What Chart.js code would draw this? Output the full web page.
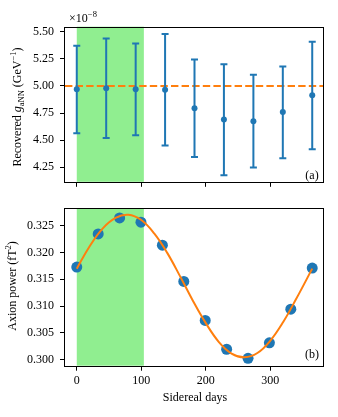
<!DOCTYPE html>
<html>
<head>
<meta charset="utf-8">
<script src="https://cdn.jsdelivr.net/npm/chart.js@4"></script>
<style>
  html, body { margin: 0; padding: 0; background: #fff; }
  #wrap { position: relative; width: 338px; height: 417px; font-family: "Liberation Serif", serif; color: #000; overflow: hidden; }
  canvas { position: absolute; left: 0; }
  #topChart { top: 0; }
  #bottomChart { top: 195px; }
  .lbl { position: absolute; font-size: 12px; white-space: nowrap; line-height: 1; transform: translate(-50%, -50%); }
  .ylab { transform: translate(-50%, -50%) rotate(-90deg); }
  .sup { font-size: 8.5px; position: relative; top: -5px; }
  .sub { font-size: 8.5px; position: relative; top: 3px; }
</style>
</head>
<body>
<div id="wrap">
  <canvas id="topChart" width="338" height="195"></canvas>
  <canvas id="bottomChart" width="338" height="222"></canvas>
  <div class="lbl ylab" style="left:17px; top:107px">Recovered <i>g</i><span class="sub">aNN</span> (GeV<span class="sup">−1</span>)</div>
  <div class="lbl ylab" style="left:12px; top:286px">Axion power (fT<span class="sup">2</span>)</div>
  <div class="lbl" style="left:83px; top:18px">×10<span class="sup">−8</span></div>
  <div class="lbl" style="left:312px; top:175px">(a)</div>
  <div class="lbl" style="left:312px; top:354px">(b)</div>
  <div class="lbl" style="left:195px; top:397px">Sidereal days</div>
</div>
<script>
const dayTicks = [0, 100, 200, 300]
const shadeDays = [0, 104]
const xMin = -18.25
const xMax = 383.25

// panel (a): recovered coupling, in units of 1e-8 GeV^-1
const gDays = [0, 45.6, 91.3, 136.9, 182.5, 228.1, 273.8, 319.4, 365]
const gCentral = [4.97, 4.98, 4.97, 4.965, 4.795, 4.69, 4.675, 4.76, 4.915]
const gUpper = [5.372, 5.437, 5.393, 5.479, 5.245, 5.200, 5.104, 5.180, 5.408]
const gLower = [4.563, 4.520, 4.545, 4.450, 4.345, 4.176, 4.247, 4.334, 4.417]
const gTrue = 5.0
const gTicks = [4.25, 4.50, 4.75, 5.00, 5.25, 5.50]

// panel (b): axion power
const powerDays = [0, 33.2, 66.4, 99.5, 132.7, 165.9, 199.1, 232.3, 265.5, 298.6, 331.8, 365]
const powerValues = [0.3173, 0.3235, 0.3265, 0.3257, 0.3214, 0.3146, 0.3073, 0.3019, 0.3002, 0.3031, 0.3094, 0.3171]
const fitDays = [0, 20, 40, 60, 80, 100, 120, 140, 160, 180, 200, 220, 240, 260, 280, 300, 320, 340, 365]
const fitValues = [0.3170, 0.3212, 0.3245, 0.3265, 0.3271, 0.3261, 0.3236, 0.3200, 0.3156, 0.3110,
  0.3068, 0.3033, 0.3011, 0.3004, 0.3012, 0.3035, 0.3070, 0.3113, 0.3170]
const powerTicks = [0.300, 0.305, 0.310, 0.315, 0.320, 0.325]

const blue = '#1f77b4'
const orange = '#ff7f0e'
const green = '#90ee90'
const tickFont = { family: 'Liberation Serif', size: 12 }

function xAxis(showLabels, height) {
  return {
    type: 'linear', min: xMin, max: xMax,
    afterBuildTicks: s => { s.ticks = dayTicks.map(v => ({ value: v })) },
    afterFit: s => { s.height = height },
    grid: { drawOnChartArea: false, drawTicks: true, tickLength: 5, color: '#000', tickColor: '#000' },
    border: { display: false },
    ticks: { display: showLabels, color: '#000', font: tickFont, padding: 3, maxRotation: 0, autoSkip: false }
  }
}

function yAxis(min, max, ticks, digits) {
  return {
    min: min, max: max,
    afterBuildTicks: s => { s.ticks = ticks.map(v => ({ value: v })) },
    afterFit: s => { s.width = 65 },
    grid: { drawOnChartArea: false, drawTicks: true, tickLength: 5, color: '#000', tickColor: '#000' },
    border: { display: false },
    ticks: { color: '#000', font: tickFont, padding: 6, autoSkip: false, callback: v => v.toFixed(digits) }
  }
}

// shaded span under the data, frame on top
const panelPlugin = {
  id: 'panel',
  beforeDatasetsDraw(chart) {
    const { ctx, chartArea: a, scales: { x } } = chart
    const x0 = x.getPixelForValue(shadeDays[0])
    const x1 = x.getPixelForValue(shadeDays[1])
    ctx.save()
    ctx.fillStyle = green
    ctx.fillRect(x0, a.top, x1 - x0, a.bottom - a.top)
    ctx.restore()
  },
  afterDraw(chart) {
    const { ctx, chartArea: a } = chart
    ctx.save()
    ctx.strokeStyle = '#000'
    ctx.lineWidth = 1
    ctx.strokeRect(Math.round(a.left) - 0.5, Math.round(a.top) + 0.5, Math.round(a.right - a.left), Math.round(a.bottom - a.top))
    ctx.restore()
  }
}

// error bars go above the dashed line but under the markers
const errorBarPlugin = {
  id: 'errorBars',
  beforeDatasetDraw(chart, args) {
    if (args.index !== 1) return
    const { ctx, scales: { x, y } } = chart
    ctx.save()
    ctx.strokeStyle = blue
    ctx.lineWidth = 2
    gDays.forEach((d, i) => {
      const px = x.getPixelForValue(d)
      const top = y.getPixelForValue(gUpper[i])
      const bot = y.getPixelForValue(gLower[i])
      ctx.beginPath()
      ctx.moveTo(px, top); ctx.lineTo(px, bot)
      ctx.moveTo(px - 3.5, top); ctx.lineTo(px + 3.5, top)
      ctx.moveTo(px - 3.5, bot); ctx.lineTo(px + 3.5, bot)
      ctx.stroke()
    })
    ctx.restore()
  }
}

const common = {
  responsive: false,
  animation: false,
  devicePixelRatio: 1,
  events: [],
  plugins: { legend: { display: false }, tooltip: { enabled: false } }
}

new Chart(document.getElementById('topChart'), {
  type: 'scatter',
  data: {
    datasets: [{
      type: 'line',
      order: 2,
      data: [{ x: xMin, y: gTrue }, { x: xMax, y: gTrue }],
      borderColor: orange,
      borderWidth: 2,
      borderDash: [7.4, 3.2],
      pointRadius: 0
    }, {
      order: 1,
      data: gDays.map((d, i) => ({ x: d, y: gCentral[i] })),
      backgroundColor: blue,
      borderColor: blue,
      pointRadius: 3,
      borderWidth: 0
    }]
  },
  options: {
    ...common,
    layout: { padding: { left: 0, right: 14, top: 26.7, bottom: 0 } },
    scales: {
      x: xAxis(false, 8.3),
      y: yAxis(4.116, 5.547, gTicks, 2)
    }
  },
  plugins: [panelPlugin, errorBarPlugin]
})

new Chart(document.getElementById('bottomChart'), {
  type: 'scatter',
  data: {
    datasets: [{
      type: 'line',
      data: fitDays.map((d, i) => ({ x: d, y: fitValues[i] })),
      borderColor: orange,
      borderWidth: 2,
      pointRadius: 0,
      tension: 0.4
    }, {
      data: powerDays.map((d, i) => ({ x: d, y: powerValues[i] })),
      backgroundColor: blue,
      borderColor: blue,
      pointRadius: 5.5,
      borderWidth: 0
    }]
  },
  options: {
    ...common,
    layout: { padding: { left: 0, right: 14, top: 11, bottom: 0 } },
    scales: {
      x: xAxis(true, 51.3),
      y: yAxis(0.29882, 0.32832, powerTicks, 3)
    }
  },
  plugins: [panelPlugin]
})
</script>
</body>
</html>
